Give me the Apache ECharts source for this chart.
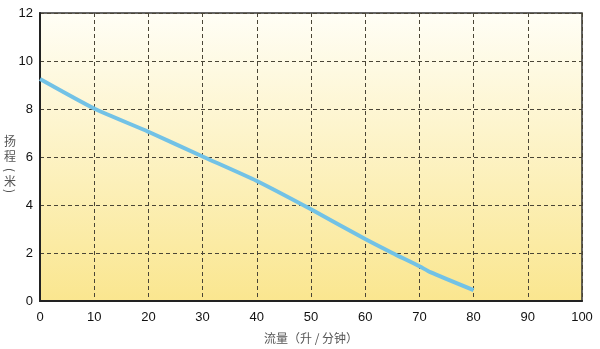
<!DOCTYPE html>
<html>
<head>
<meta charset="utf-8">
<script src="https://cdn.jsdelivr.net/npm/echarts@6/dist/echarts.min.js"></script>
<style>
  html, body { margin: 0; padding: 0; background: #ffffff; }
  #chart { width: 600px; height: 349px; }
</style>
</head>
<body>
<div id="chart"></div>
<script>
// Pump curve: head (m) versus flow (L/min)
const flowValues = [0, 10, 20, 30, 40, 50, 60, 65, 70, 72, 80];
const headValues = [9.25, 8.02, 7.05, 6.02, 5.0, 3.82, 2.58, 2.0, 1.45, 1.2, 0.45];
const xTicks = { min: 0, max: 100, interval: 10 };
const yTicks = { min: 0, max: 12, interval: 2 };
const xTitle = '流量（升 / 分钟）';
const yTitle = ['扬', '程', '(', '米', ')'];

const points = flowValues.map((f, i) => [f, headValues[i]]);

const chart = echarts.init(document.getElementById('chart'), null, { renderer: 'canvas' });
const fontFamily = '"Liberation Sans", Arial, sans-serif';
const cjkFont = '"Noto Sans CJK SC", sans-serif';

// vertical title for the head axis: one glyph per row, brackets turned sideways
const rowY = [141, 156, 170, 181, 191];
const titleGlyphs = yTitle.map((ch, i) => {
  const isBracket = ch === '(' || ch === ')';
  return {
    type: 'text',
    x: 10,
    y: rowY[i],
    rotation: isBracket ? -Math.PI / 2 : 0,
    style: {
      text: ch,
      fill: '#555',
      font: '12px ' + cjkFont,
      align: 'center',
      verticalAlign: 'middle'
    }
  };
});

chart.setOption({
  animation: false,
  grid: {
    left: 40, right: 18, top: 13, bottom: 48,
    outerBoundsMode: 'none',
    containLabel: false,
    show: true,
    borderColor: '#333333',
    borderWidth: 1.5,
    backgroundColor: new echarts.graphic.LinearGradient(0, 0, 0, 1, [
      { offset: 0, color: '#fffef6' },
      { offset: 1, color: '#fae68f' }
    ])
  },
  graphic: titleGlyphs,
  xAxis: {
    type: 'value',
    min: xTicks.min, max: xTicks.max, interval: xTicks.interval,
    axisLine: { show: true, lineStyle: { color: '#222', width: 2 } },
    axisTick: { show: false },
    axisLabel: { color: '#111', fontSize: 13, fontFamily: fontFamily, margin: 10 },
    splitLine: { show: true, lineStyle: { color: '#4a4536', type: [4, 3], width: 1 } },
    name: xTitle,
    nameLocation: 'middle',
    nameGap: 31,
    nameTextStyle: { color: '#555', fontSize: 12, fontFamily: cjkFont }
  },
  yAxis: {
    type: 'value',
    min: yTicks.min, max: yTicks.max, interval: yTicks.interval,
    axisLine: { show: true, lineStyle: { color: '#222', width: 2 } },
    axisTick: { show: false },
    axisLabel: { color: '#111', fontSize: 13, fontFamily: fontFamily, margin: 7 },
    splitLine: { show: true, lineStyle: { color: '#4a4536', type: [4, 3], width: 1 } }
  },
  series: [{
    type: 'line',
    data: points,
    smooth: 0.2,
    symbol: 'none',
    lineStyle: { color: '#72c2e6', width: 4 }
  }]
});
</script>
</body>
</html>
